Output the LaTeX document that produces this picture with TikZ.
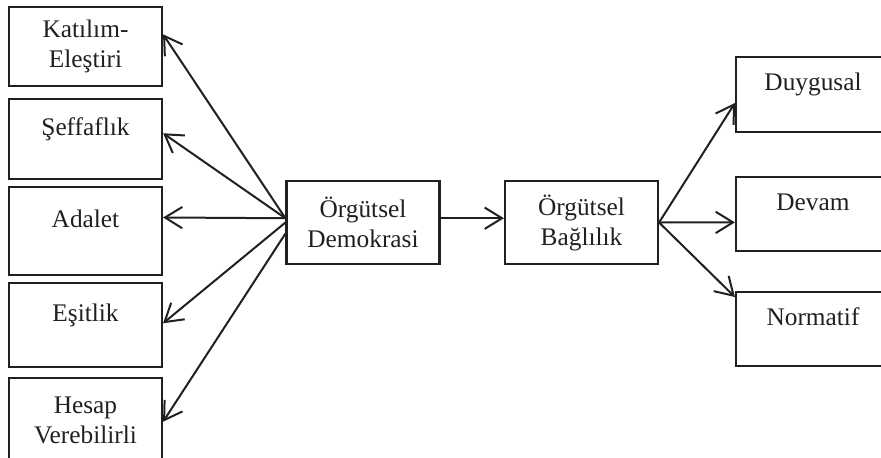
\documentclass[tikz,border=0pt]{standalone}
\usepackage{fontspec}
\setmainfont{Liberation Serif}
\usepackage{tikz}
\usetikzlibrary{arrows.meta,calc}

\definecolor{ink}{RGB}{35,31,32}

\begin{document}
\begin{tikzpicture}[x=0.75pt,y=-0.75pt,
  box/.style={draw=ink,line width=1.6pt,minimum width=153*\U,inner sep=0pt,
    align=center,text=ink,font=\fontsize{19}{22.5}\selectfont},
  oneline/.style={text height=6pt,text depth=12pt},
  arr/.style={draw=ink,line width=1.5pt,-{Straight Barb[length=13pt,width=16pt]}}]

\newcommand\U{0.75pt};

\clip (0,0) rectangle (881,457);

% left column
\node[box,minimum height=79*\U] (kat) at (85.5,46.5) {Katılım-\\Eleştiri};
\node[box,oneline,minimum height=80*\U] (sef) at (85.5,139) {Şeffaflık};
\node[box,oneline,minimum height=88*\U] (ada) at (85.5,231) {Adalet};
\node[box,oneline,minimum height=84*\U] (esi) at (85.5,325) {Eşitlik};
\node[box,minimum height=84*\U] (hes) at (85.5,420) {Hesap\\Verebilirli};

% middle
\node[box,minimum height=83*\U] (dem) at (363,222.5) {Örgütsel\\Demokrasi};
\node[box,minimum height=83*\U] (bag) at (581.5,222.5) {Örgütsel\\Bağlılık};

% right column
\node[box,oneline,minimum width=154*\U,minimum height=75*\U] (duy) at (813,94.5) {Duygusal};
\node[box,oneline,minimum width=154*\U,minimum height=74*\U] (dev) at (813,214) {Devam};
\node[box,oneline,minimum width=154*\U,minimum height=74*\U] (nor) at (813,329) {Normatif};

\coordinate (hubL) at ($(dem.north west)!0.45!(dem.south west)$);
\coordinate (hubLb) at ($(dem.north west)!0.63!(dem.south west)$);

\draw[arr] (hubL) -- ($(kat.north east)!0.35!(kat.south east)$);
\draw[arr] (hubL) -- ($(sef.north east)!0.43!(sef.south east)$);
\draw[arr] (hubL) -- ($(ada.north east)!0.35!(ada.south east)$);
\draw[arr] (dem.west) -- ($(esi.north east)!0.48!(esi.south east)$);
\draw[arr] (hubLb) -- ($(hes.north east)!0.52!(hes.south east)$);

\draw[arr] ($(dem.north east)!0.45!(dem.south east)$) -- ($(bag.north west)!0.45!(bag.south west)$);

\draw[arr] (bag.east) -- ($(duy.north west)!0.61!(duy.south west)$);
\draw[arr] (bag.east) -- ($(dev.north west)!0.61!(dev.south west)$);
\draw[arr] (bag.east) -- ($(nor.north west)!0.08!(nor.south west)$);

\end{tikzpicture}
\end{document}
